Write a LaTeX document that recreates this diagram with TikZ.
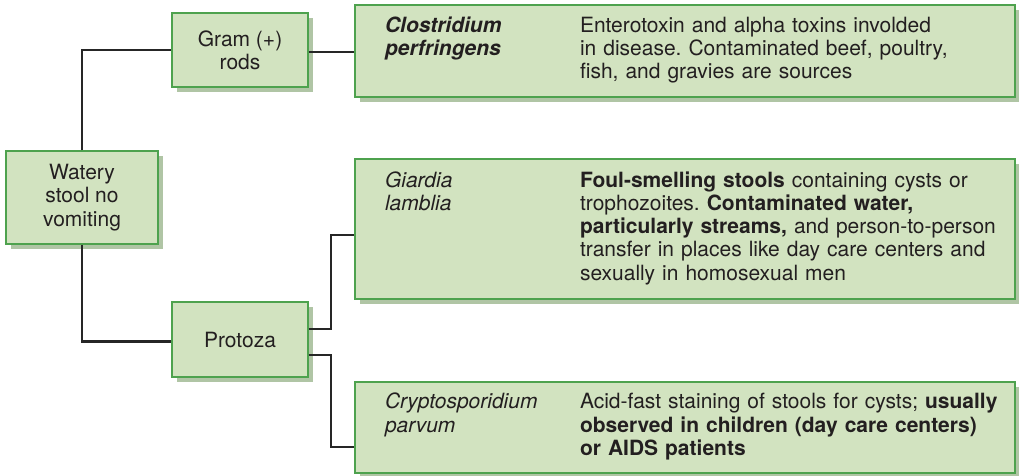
\documentclass[tikz,border=0pt]{standalone}
\usepackage{fontspec}
\setmainfont{TeX Gyre Heros}
\usepackage{tikz}
\usetikzlibrary{positioning,calc,shadows}
\definecolor{boxfill}{RGB}{210,227,192}
\definecolor{boxline}{RGB}{78,162,78}
\definecolor{boxshade}{RGB}{176,197,165}
\definecolor{wire}{RGB}{38,38,38}
\definecolor{ink}{RGB}{35,31,32}
\frenchspacing

\begin{document}
\begin{tikzpicture}[
x=1pt,y=-1pt,
font=\fontsize{21}{23.2}\selectfont,
box/.style={rectangle,draw=boxline,line width=1.2pt,fill=boxfill,text=ink,
  drop shadow={shadow xshift=5pt,shadow yshift=-5pt,fill=boxshade,opacity=1},
  inner sep=0pt,align=center},
wide/.style={box,minimum width=660pt,text width=600pt,inner xsep=30pt,align=left},
wire/.style={draw=wire,line width=2.2pt}
]
\useasboundingbox (0,0) rectangle (1019,475);
\node[box,minimum width=152pt,minimum height=93pt] (Wat) at (82,197.5) {Watery\\stool no\\vomiting};
\node[box,minimum width=136pt,minimum height=74pt] (Gram) at (240,50) {Gram (+)\\rods};
\node[box,minimum width=136pt,minimum height=75pt] (Prot) at (240,339.5) {Protoza};
\node[wide,minimum height=92pt] (Clos) at (685,51) {%
  \begin{tabular}{@{}p{195pt}@{}l@{}}
  \textbf{\textit{Clostridium}} & Enterotoxin and alpha toxins involded\\
  \textbf{\textit{perfringens}} & in disease. Contaminated beef, poultry,\\
   & fish, and gravies are sources
  \end{tabular}};
\node[wide,minimum height=140pt] (Giar) at (685,229) {%
  \begin{tabular}{@{}p{195pt}@{}l@{}}
  \textit{Giardia} & \textbf{Foul-smelling stools} containing cysts or\\
  \textit{lamblia} & trophozoites. \textbf{Contaminated water,}\\
   & \textbf{particularly streams,} and person-to-person\\
   & transfer in places like day care centers and\\
   & sexually in homosexual men
  \end{tabular}};
\node[wide,minimum height=91pt] (Cryp) at (685,427.5) {%
  \begin{tabular}{@{}p{195pt}@{}l@{}}
  \textit{Cryptosporidium} & Acid-fast staining of stools for cysts; \textbf{usually}\\
  \textit{parvum} & \textbf{observed in children (day care centers)}\\
   & \textbf{or AIDS patients}
  \end{tabular}};
% tree connectors
\draw[wire] (Wat.north) |- (Gram.west);
\draw[wire] (Wat.south) |- ([yshift=-2pt]Prot.west);
\draw[wire] ([yshift=-2pt]Gram.east) -- ([yshift=-2pt]Gram.east -| Clos.west);
\draw[wire] ([yshift=10.5pt]Prot.east) -- ++(22,0) |- ([yshift=-6pt]Giar.west);
\draw[wire] ([yshift=-15.5pt]Prot.east) -- ++(22,0) |- ([yshift=-19.5pt]Cryp.west);
\end{tikzpicture}
\end{document}
